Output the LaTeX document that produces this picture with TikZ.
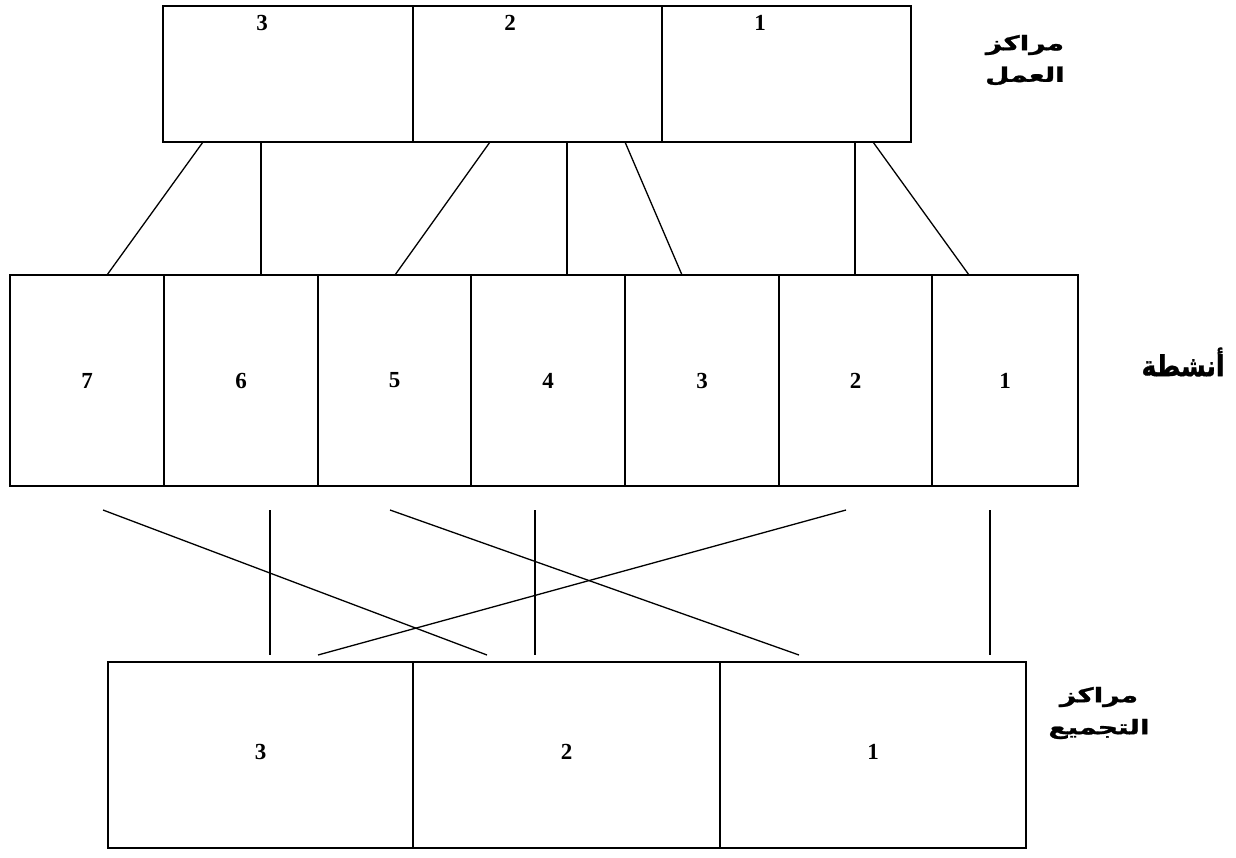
\documentclass[tikz,border=0pt]{standalone}
\usepackage{fontspec}
\setmainfont{Liberation Serif}
\newfontfamily\arabicfont[Script=Arabic, BoldFeatures={FakeBold=1.2}]{DejaVu Sans}
\TeXXeTstate=1
\newcommand{\arwide}[1]{\scalebox{1.4}[1]{\beginR #1\endR}}
\begin{document}
\begin{tikzpicture}[x=1pt,y=-1pt,
  cell/.style={draw, line width=1.5pt, rectangle, inner sep=0pt},
  link/.style={line width=1.3pt},
  num/.style={font=\fontsize{23}{23}\selectfont\bfseries, inner sep=0pt},
  arsmall/.style={font=\arabicfont\fontsize{20}{20}\selectfont\bfseries, inner sep=0pt},
  arbig/.style={font=\arabicfont\fontsize{25}{25}\selectfont\bfseries, inner sep=0pt}]
\useasboundingbox[fill=white] (0,0) rectangle (1236,857);

% top box: work centres
\node[cell, minimum width=250pt, minimum height=136pt] (tc3) at (288,74) {};
\node[cell, minimum width=249pt, minimum height=136pt] (tc2) at (537.5,74) {};
\node[cell, minimum width=249pt, minimum height=136pt] (tc1) at (786.5,74) {};
\node[num] (tn3) at (262,23) {3};
\node[num] (tn2) at (510,23) {2};
\node[num] (tn1) at (760,23) {1};

% activities
\node[cell, minimum width=154pt, minimum height=211pt] (a7) at (87,380.5) {};
\node[cell, minimum width=154pt, minimum height=211pt] (a6) at (241,380.5) {};
\node[cell, minimum width=153pt, minimum height=211pt] (a5) at (394.5,380.5) {};
\node[cell, minimum width=154pt, minimum height=211pt] (a4) at (548,380.5) {};
\node[cell, minimum width=154pt, minimum height=211pt] (a3) at (702,380.5) {};
\node[cell, minimum width=153pt, minimum height=211pt] (a2) at (855.5,380.5) {};
\node[cell, minimum width=146pt, minimum height=211pt] (a1) at (1005,380.5) {};
\node[num] (an7) at (a7.center) {7};
\node[num] (an6) at (a6.center) {6};
\node[num] (an5) at (a5.center) {5};
\node[num] (an4) at (a4.center) {4};
\node[num] (an3) at (a3.center) {3};
\node[num] (an2) at (a2.center) {2};
\node[num] (an1) at (a1.center) {1};

% bottom box: cost pools
\node[cell, minimum width=305pt, minimum height=186pt] (b3) at (260.5,755) {};
\node[cell, minimum width=307pt, minimum height=186pt] (b2) at (566.5,755) {};
\node[cell, minimum width=306pt, minimum height=186pt] (b1) at (873,755) {};
\node[num] (bn3) at (260.5,752) {3};
\node[num] (bn2) at (566.5,752) {2};
\node[num] (bn1) at (873,752) {1};

% labels
\node[arsmall] (wl1) at (1025,45) {\arwide{مراكز}};
\node[arsmall] (wl2) at (1025,76) {\arwide{العمل}};
\node[arbig] (actl) at (1183,362) {\scalebox{1}[1.15]{\beginR أنشطة\endR}};
\node[arsmall] (pl1) at (1099,697) {\arwide{مراكز}};
\node[arsmall] (pl2) at (1099,729) {\arwide{التجميع}};

% connector end points: top -> activities
\coordinate (t1) at (203,142);  \coordinate (u1) at (107,275);
\coordinate (t2) at (261,142);  \coordinate (u2) at (261,275);
\coordinate (t3) at (490,142);  \coordinate (u3) at (395,275);
\coordinate (t4) at (567,142);  \coordinate (u4) at (567,275);
\coordinate (t5) at (625,142);  \coordinate (u5) at (682,275);
\coordinate (t6) at (855,142);  \coordinate (u6) at (855,275);
\coordinate (t7) at (873,142);  \coordinate (u7) at (969,275);
\foreach \i in {1,...,7} \draw[link] (t\i) -- (u\i);

% activities -> cost pools (free-floating)
\coordinate (p1) at (103,510);  \coordinate (q1) at (487,655);
\coordinate (p2) at (270,510);  \coordinate (q2) at (270,655);
\coordinate (p3) at (390,510);  \coordinate (q3) at (799,655);
\coordinate (p4) at (535,510);  \coordinate (q4) at (535,655);
\coordinate (p5) at (846,510);  \coordinate (q5) at (318,655);
\coordinate (p6) at (990,510);  \coordinate (q6) at (990,655);
\foreach \i in {1,...,6} \draw[link] (p\i) -- (q\i);
\end{tikzpicture}
\end{document}
